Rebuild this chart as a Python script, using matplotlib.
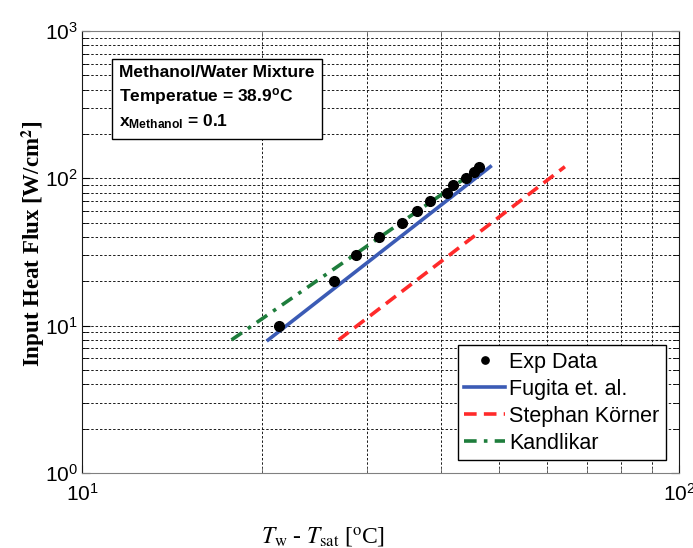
import matplotlib.pyplot as plt
import matplotlib.ticker as mticker
import numpy as np

plt.rcParams['font.family'] = ['Liberation Sans', 'DejaVu Sans']
plt.rcParams['mathtext.fontset'] = 'custom'
plt.rcParams['mathtext.rm'] = 'Liberation Sans'
plt.rcParams['mathtext.it'] = 'Liberation Sans:italic'
plt.rcParams['mathtext.bf'] = 'Liberation Sans:bold'
plt.rcParams['mathtext.default'] = 'regular'

# experimental data
exp_dT = [21.4, 26.4, 28.8, 31.4, 34.4, 36.4, 38.3, 40.8, 41.9, 43.9, 45.4, 46.2]
exp_q = [10, 20, 30, 40, 50, 60, 70, 80, 90, 100, 110, 120]

# correlations (straight lines in log-log, end points)
fugita_dT = [20.5, 48.3]
fugita_q = [8, 120]
korner_dT = [26.9, 64.4]
korner_q = [8, 120]
kandlikar_dT = [17.8, 47.0]
kandlikar_q = [8, 122]

fig = plt.figure(figsize=(6.93, 5.48), dpi=100)
ax = fig.add_axes([82/693, 1-473/548, 597/693, 442/548])

ax.plot(exp_dT, exp_q, 'o', color='black', markersize=7, label='Exp Data', zorder=5)
ax.plot(fugita_dT, fugita_q, '-', color='#3b5bb5', lw=2.6, label='Fugita et. al.')
ax.plot(korner_dT, korner_q, '--', color='#ff2a2a', lw=2.6, dashes=(3.5, 2), label='Stephan K\u00f6rner')
ax.plot(kandlikar_dT, kandlikar_q, '-.', color='#1e7d3c', lw=2.6, dashes=(3.5, 2, 1, 2), label='Kandlikar')

ax.set_xscale('log')
ax.set_yscale('log')
ax.set_xlim(10, 100)
ax.set_ylim(1, 1000)

ax.xaxis.set_minor_locator(mticker.LogLocator(base=10, subs=np.arange(2, 10)))
ax.yaxis.set_minor_locator(mticker.LogLocator(base=10, subs=np.arange(2, 10)))
ax.xaxis.set_minor_formatter(mticker.NullFormatter())
ax.yaxis.set_minor_formatter(mticker.NullFormatter())

ax.grid(True, which='both', axis='y', linestyle=(0, (2.5, 2)), color='0.1', lw=0.7)
ax.grid(True, which='both', axis='x', linestyle=(0, (2.5, 2)), color='0.1', lw=0.7)

ax.tick_params(which='both', direction='in', top=True, right=True, labelsize=15)
ax.tick_params(which='major', length=6)
ax.tick_params(which='minor', length=4)
ax.tick_params(axis='x', pad=7)
ax.tick_params(axis='y', pad=3)
for s in ['bottom', 'top']:
    ax.spines[s].set_color('0.5')
for s in ['left', 'right']:
    ax.spines[s].set_color('0.1')
ax.tick_params(axis='x', which='both', color='0.4')

ax.set_xlabel(r'$\mathit{T}_{\rm w}$ - $\mathit{T}_{\rm sat}$ [$^{\rm o}$C]', fontsize=17,
              family='Liberation Serif', math_fontfamily='stix')
ax.xaxis.set_label_coords((323-82)/597, (473-536)/442)
ax.xaxis.label.set_va('center')
ax.set_ylabel(r'Input Heat Flux [W/cm$^{\mathbf{2}}$]', fontsize=16.5, fontweight='bold',
              family='Liberation Serif', math_fontfamily='stix')
ax.yaxis.set_label_coords((33-82)/597, 0.518)
ax.yaxis.label.set_va('center')

ax.text((119-82)/597, (473-65)/442,
        'Methanol/Water Mixture\n'
        'Temperatue = 38.9$^{\\mathbf{o}}$C\n'
        '$\\mathbf{x_{Methanol}}$ = 0.1',
        transform=ax.transAxes, fontsize=12.5, fontweight='bold', va='top', ha='left',
        linespacing=1.4,
        bbox=dict(boxstyle='square,pad=0.42', fc='white', ec='black', lw=1))

leg = ax.legend(loc='lower right', fontsize=15.5, fancybox=False, framealpha=1,
                edgecolor='black', handlelength=1.9, handletextpad=0.2,
                borderpad=0.3, labelspacing=0.28, borderaxespad=0.6,
                markerscale=0.75, bbox_to_anchor=(1.0, 0.0))
leg.get_frame().set_linewidth(1)

fig.savefig('out.png', dpi=100)
